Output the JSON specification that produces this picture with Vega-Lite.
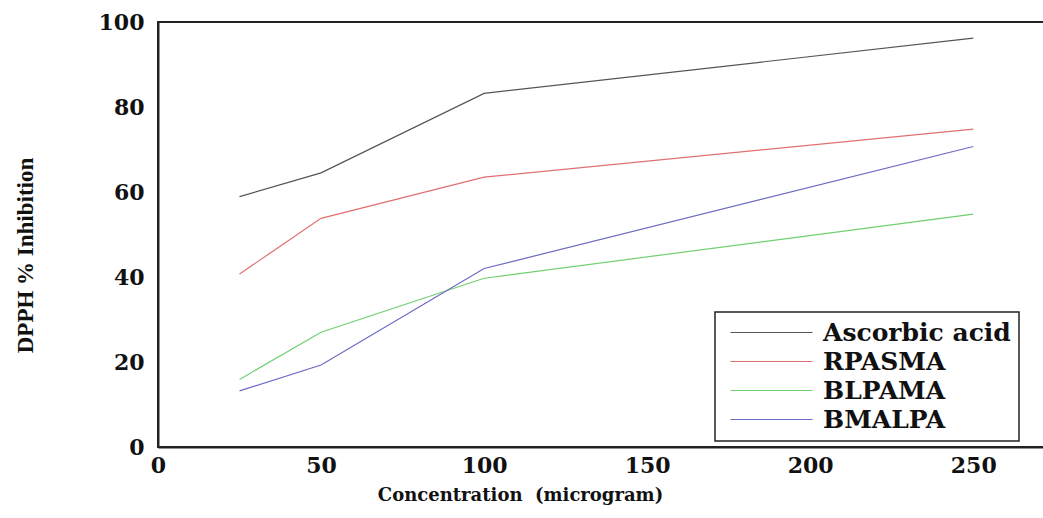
{
  "$schema": "https://vega.github.io/schema/vega-lite/v6.json",
  "autosize": {"type": "none"},
  "padding": {"left": 158, "top": 22, "right": 0, "bottom": 71},
  "width": 887,
  "height": 425,
  "background": "white",
  "config": {
    "view": {"stroke": "#222222", "strokeWidth": 2},
    "axis": {"grid": false, "ticks": false, "tickSize": 0, "domainColor": "#222222", "domainWidth": 2,
             "labelFont": "DejaVu Serif", "labelFontWeight": "bold", "labelFontSize": 22, "labelColor": "#111111",
             "titleFont": "DejaVu Serif", "titleFontWeight": "bold", "titleColor": "#111111", "labelFlush": false},
    "legend": {"strokeColor": "#222222", "fillColor": "white"}
  },
  "data": {"values": [
    {"conc": 25, "value": 58.9, "series": "Ascorbic acid"},
    {"conc": 50, "value": 64.5, "series": "Ascorbic acid"},
    {"conc": 100, "value": 83.2, "series": "Ascorbic acid"},
    {"conc": 250, "value": 96.2, "series": "Ascorbic acid"},
    {"conc": 25, "value": 40.7, "series": "RPASMA"},
    {"conc": 50, "value": 53.8, "series": "RPASMA"},
    {"conc": 100, "value": 63.5, "series": "RPASMA"},
    {"conc": 250, "value": 74.8, "series": "RPASMA"},
    {"conc": 25, "value": 15.9, "series": "BLPAMA"},
    {"conc": 50, "value": 27.0, "series": "BLPAMA"},
    {"conc": 100, "value": 39.7, "series": "BLPAMA"},
    {"conc": 250, "value": 54.8, "series": "BLPAMA"},
    {"conc": 25, "value": 13.2, "series": "BMALPA"},
    {"conc": 50, "value": 19.3, "series": "BMALPA"},
    {"conc": 100, "value": 42.0, "series": "BMALPA"},
    {"conc": 250, "value": 70.7, "series": "BMALPA"}
  ]},
  "mark": {"type": "line", "strokeWidth": 1.2},
  "encoding": {
    "x": {"field": "conc", "type": "quantitative",
          "scale": {"domain": [0, 272], "nice": false, "zero": true},
          "axis": {"values": [0, 50, 100, 150, 200, 250], "title": "Concentration\u00a0 (microgram)",
                   "labelPadding": 8, "titleFontSize": 18, "titleX": 362, "titleY": 53,
                   "titleBaseline": "alphabetic", "titleAlign": "center", "titleAnchor": null}},
    "y": {"field": "value", "type": "quantitative",
          "scale": {"domain": [0, 100], "nice": false},
          "axis": {"values": [0, 20, 40, 60, 80, 100], "title": "DPPH % Inhibition",
                   "labelPadding": 14, "titleFont": "Liberation Serif", "titleFontSize": 23,
                   "titleX": -126, "titleY": 233, "titleAngle": -90,
                   "titleBaseline": "alphabetic", "titleAlign": "center", "titleAnchor": null}},
    "color": {"field": "series", "type": "nominal",
              "scale": {"domain": ["Ascorbic acid", "RPASMA", "BLPAMA", "BMALPA"],
                        "range": ["#555555", "#e07070", "#70d070", "#6a6ac4"]},
              "legend": {"title": null, "orient": "none", "legendX": 557, "legendY": 290,
                         "symbolType": "M-1,0H15.4", "symbolSize": 100, "symbolStrokeWidth": 1.2,
                         "labelFont": "DejaVu Serif", "labelFontWeight": "bold", "labelFontSize": 25,
                         "labelColor": "#111111", "labelOffset": 75, "labelLimit": 400, "rowPadding": 3,
                         "padding": 8,
                         "encode": {"legend": {"update": {"strokeWidth": {"value": 1.5}}}}}}
  }
}
